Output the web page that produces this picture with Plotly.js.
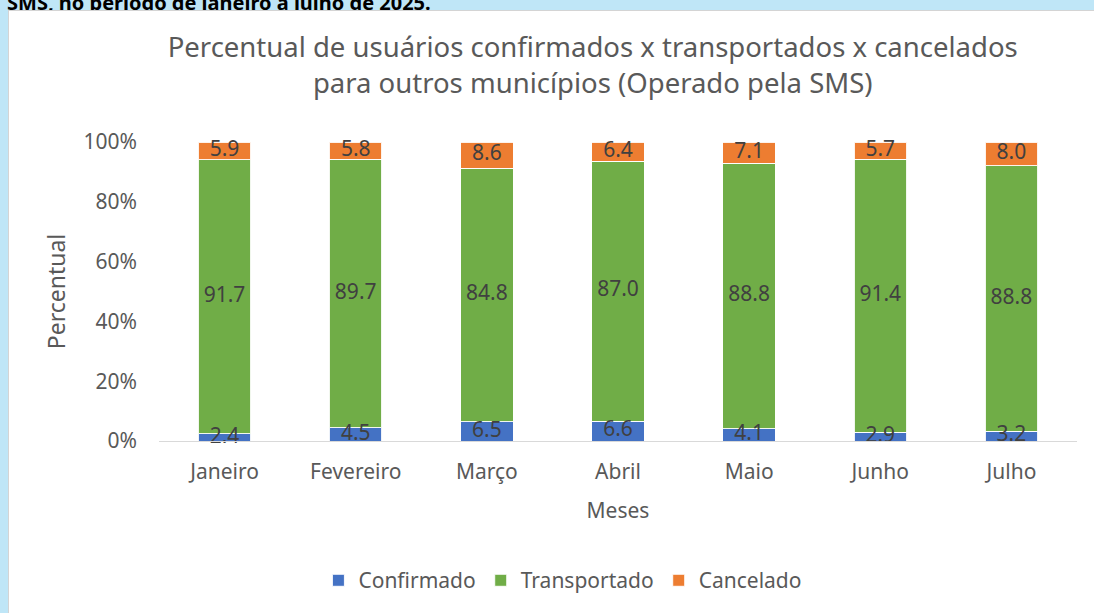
<!DOCTYPE html>
<html>
<head>
<meta charset="utf-8">
<script src="https://cdn.plot.ly/plotly-3.0.1.min.js"></script>
<style>
  html, body { margin:0; padding:0; width:1094px; height:613px; overflow:hidden; background:#bfe6f7; }
  #cap { position:absolute; left:7px; top:-11px; font-family:"Noto Sans", sans-serif; font-weight:bold; font-size:20px; color:#000; white-space:nowrap; }
  #frame { position:absolute; left:8px; top:10px; width:1086px; height:603px; background:#fff; border-left:1px solid #d4d4d4; border-top:1px solid #d4d4d4; }
  #chart { position:absolute; left:0; top:0; width:1085px; height:602px; }
</style>
</head>
<body>
<div id="cap">SMS, no período de janeiro a julho de 2025.</div>
<div id="frame"><div id="chart"></div></div>
<script>
const meses = ["Janeiro", "Fevereiro", "Março", "Abril", "Maio", "Junho", "Julho"];
const confirmado = [2.4, 4.5, 6.5, 6.6, 4.1, 2.9, 3.2];
const transportado = [91.7, 89.7, 84.8, 87.0, 88.8, 91.4, 88.8];
const cancelado = [5.9, 5.8, 8.6, 6.4, 7.1, 5.7, 8.0];
const yTicks = [0, 20, 40, 60, 80, 100];
const yTickText = ["0%", "20%", "40%", "60%", "80%", "100%"];

const font = "Noto Sans, Open Sans, sans-serif";
const txtColor = "#595959";
const edge = {color: "rgba(255,255,255,0.9)", width: 1};

function barTrace(name, vals, color) {
  return {type: "bar", name: name, x: meses, y: vals, marker: {color: color, line: edge}, hoverinfo: "skip"};
}
function labelTrace(vals, base) {
  return {
    type: "scatter", mode: "text", x: meses,
    y: vals.map((v, i) => base[i] + v / 2),
    text: vals.map(v => v.toFixed(1)),
    textposition: "middle center",
    textfont: {family: font, size: 21, color: "#404040"},
    showlegend: false, hoverinfo: "skip", cliponaxis: false
  };
}
const zeros = meses.map(() => 0);
const base2 = confirmado.slice();
const base3 = confirmado.map((v, i) => v + transportado[i]);

const data = [
  barTrace("Confirmado", confirmado, "#4472c4"),
  barTrace("Transportado", transportado, "#70ad47"),
  barTrace("Cancelado", cancelado, "#ed7d31"),
  labelTrace(confirmado, zeros),
  labelTrace(transportado, base2),
  labelTrace(cancelado, base3)
];

const layout = {
  width: 1085, height: 602,
  margin: {l: 150, r: 17, t: 131, b: 172},
  paper_bgcolor: "#ffffff", plot_bgcolor: "#ffffff",
  barmode: "stack", bargap: 0.6,
  font: {family: font, size: 21, color: txtColor},
  title: {
    text: "Percentual de usuários confirmados x transportados x cancelados<br>para outros municípios (Operado pela SMS)",
    font: {family: font, size: 27.5, color: txtColor},
    x: 0.538, xref: "container", xanchor: "center",
    y: 0.923, yref: "container", yanchor: "middle"
  },
  xaxis: {
    type: "category", showgrid: false, zeroline: false,
    showline: true, linecolor: "#d9d9d9", linewidth: 1,
    ticks: "", ticklabelstandoff: 12,
    tickfont: {family: font, size: 21, color: txtColor},
    title: {text: "Meses", font: {family: font, size: 21, color: txtColor}, standoff: 19}
  },
  yaxis: {
    range: [0, 100], showgrid: false, zeroline: false, showline: false,
    tickmode: "array", tickvals: yTicks, ticktext: yTickText,
    ticks: "", ticklabelstandoff: 21,
    tickfont: {family: font, size: 21, color: txtColor},
    title: {text: "Percentual", font: {family: font, size: 23, color: txtColor}, standoff: 11}
  },
  legend: {
    orientation: "h", x: 0.44, xanchor: "center", y: -0.467, yanchor: "middle",
    font: {family: font, size: 21, color: txtColor},
    traceorder: "normal"
  },
  showlegend: true
};

Plotly.newPlot("chart", data, layout, {displayModeBar: false, staticPlot: true});
</script>
</body>
</html>
